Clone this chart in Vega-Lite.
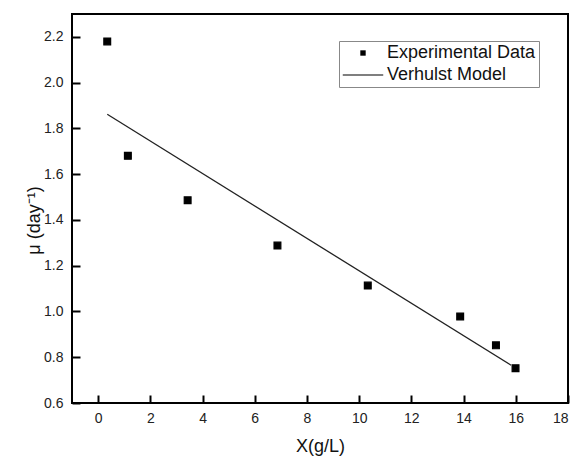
{
  "$schema": "https://vega.github.io/schema/vega-lite/v6.json",
  "width": 496,
  "height": 389,
  "autosize": "none",
  "padding": {"left": 72, "top": 14, "right": 7, "bottom": 56},
  "background": "white",
  "config": {
    "view": {"stroke": "black", "strokeWidth": 2},
    "font": "Liberation Sans"
  },
  "datasets": {
    "points": [
      {"x": 0.35, "mu": 2.18, "series": "Experimental Data"},
      {"x": 1.14, "mu": 1.68, "series": "Experimental Data"},
      {"x": 3.43, "mu": 1.486, "series": "Experimental Data"},
      {"x": 6.87, "mu": 1.288, "series": "Experimental Data"},
      {"x": 10.33, "mu": 1.113, "series": "Experimental Data"},
      {"x": 13.87, "mu": 0.978, "series": "Experimental Data"},
      {"x": 15.24, "mu": 0.852, "series": "Experimental Data"},
      {"x": 15.99, "mu": 0.752, "series": "Experimental Data"}
    ],
    "model": [
      {"x": 0.35, "mu": 1.862, "series": "Verhulst Model"},
      {"x": 15.82, "mu": 0.765, "series": "Verhulst Model"}
    ],
    "xticks": [
      {"x": 0}, {"x": 2}, {"x": 4}, {"x": 6}, {"x": 8}, {"x": 10}, {"x": 12}, {"x": 14}, {"x": 16}, {"x": 18}
    ],
    "yticks": [
      {"mu": 0.6}, {"mu": 0.8}, {"mu": 1.0}, {"mu": 1.2}, {"mu": 1.4}, {"mu": 1.6}, {"mu": 1.8}, {"mu": 2.0}, {"mu": 2.2}
    ]
  },
  "encoding": {
    "x": {
      "field": "x", "type": "quantitative",
      "scale": {"domain": [-1, 18], "nice": false, "zero": false},
      "axis": {
        "title": "X(g/L)", "values": [0, 2, 4, 6, 8, 10, 12, 14, 16, 18],
        "grid": false, "domain": false, "ticks": true, "tickSize": 8, "tickColor": "black", "tickWidth": 2, "offset": -8,
        "labelFont": "Liberation Sans", "labelFontSize": 14, "labelColor": "#222", "labelPadding": 8,
        "titleFont": "Liberation Sans", "titleFontSize": 18, "titleFontWeight": "normal", "titleColor": "#111", "titlePadding": 12
      }
    },
    "y": {
      "field": "mu", "type": "quantitative",
      "scale": {"domain": [0.6, 2.3], "nice": false, "zero": false},
      "axis": {
        "title": "μ (day⁻¹)", "values": [0.6, 0.8, 1.0, 1.2, 1.4, 1.6, 1.8, 2.0, 2.2], "format": ".1f",
        "grid": false, "domain": false, "ticks": true, "tickSize": 8, "tickColor": "black", "tickWidth": 2, "offset": -8,
        "labelFont": "Liberation Sans", "labelFontSize": 14, "labelColor": "#222", "labelPadding": 9,
        "titleFont": "Liberation Sans", "titleFontSize": 18, "titleFontWeight": "normal", "titleColor": "#111",
        "titleX": -46, "titleY": 206, "titleBaseline": "middle"
      }
    }
  },
  "layer": [
    {
      "data": {"name": "xticks"},
      "mark": {"type": "rule", "color": "black", "strokeWidth": 2, "opacity": 1},
      "encoding": {
        "y": {"datum": 0.6, "type": "quantitative"},
        "y2": {"datum": 0.635}
      }
    },
    {
      "data": {"name": "yticks"},
      "mark": {"type": "rule", "color": "black", "strokeWidth": 2, "opacity": 1},
      "encoding": {
        "x": {"datum": -1, "type": "quantitative"},
        "x2": {"datum": -0.69}
      }
    },
    {
      "data": {"name": "model"},
      "mark": {"type": "line", "color": "#222", "strokeWidth": 1.3}
    },
    {
      "data": {"name": "points"},
      "mark": {"type": "point", "filled": true, "color": "black", "stroke": "black", "strokeWidth": 1.2, "opacity": 1, "size": 64},
      "encoding": {
        "shape": {
          "field": "series", "type": "nominal",
          "scale": {
            "domain": ["Experimental Data", "Verhulst Model"],
            "range": ["M-0.85,-0.85H0.85V0.85H-0.85Z", "M-6.4,-0.12H6.4V0.12H-6.4Z"]
          },
          "legend": {
            "title": null,
            "orient": "none",
            "legendX": 267,
            "legendY": 27,
            "symbolSize": 40,
            "symbolStrokeColor": "black",
            "symbolStrokeWidth": 1.2,
            "symbolFillColor": "black",
            "symbolOpacity": 1,
            "labelFont": "Liberation Sans",
            "labelFontSize": 18,
            "labelColor": "#111",
            "labelOffset": 15,
            "rowPadding": 4,
            "padding": 3,
            "symbolOffset": 12,
            "strokeColor": "#888",
            "fillColor": "white"
          }
        }
      }
    }
  ]
}
